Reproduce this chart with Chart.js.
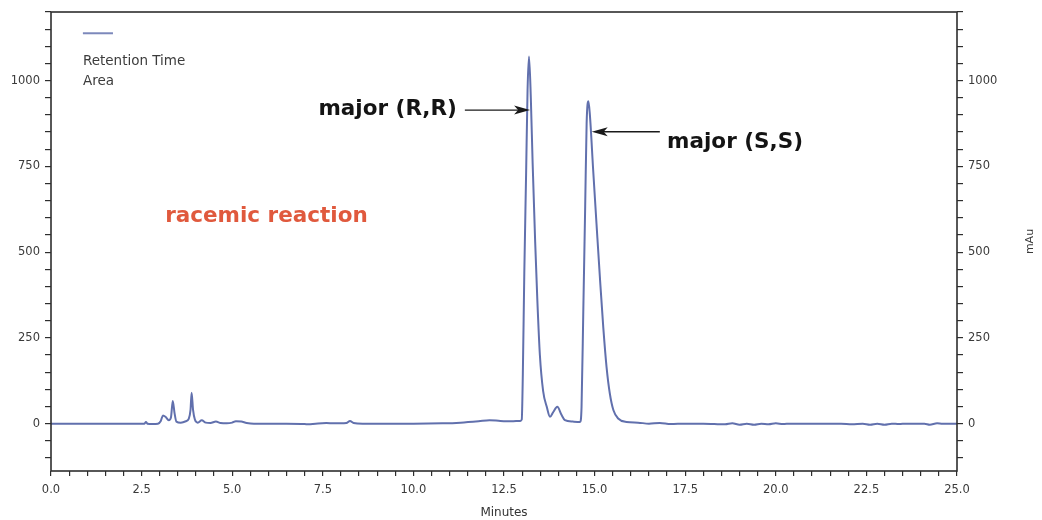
<!DOCTYPE html>
<html>
<head>
<meta charset="utf-8">
<title>Chromatogram - racemic reaction</title>
<script src="https://cdn.jsdelivr.net/npm/chart.js@4.4.1/dist/chart.umd.min.js"></script>
<style>
  html, body { margin: 0; padding: 0; background: #ffffff; }
  #wrap { width: 1042px; height: 520px; position: relative; }
</style>
</head>
<body>
<div id="wrap"><canvas id="chrom" width="1042" height="520"></canvas></div>
<script>
// Detector trace: retention time (min) and absorbance (mAu)
const retentionMinutes = [
  0.00, 2.50, 2.58, 2.62, 2.66, 2.80, 2.95, 3.03, 3.09, 3.16, 3.25, 3.31, 3.36, 3.41, 3.46,
  3.58, 3.72, 3.80, 3.85, 3.88, 3.92, 3.97, 4.05, 4.16, 4.27, 4.40, 4.55, 4.68, 4.85, 5.00,
  5.10, 5.25, 5.40, 5.60, 6.50, 7.00, 7.10, 7.30, 7.60, 7.80, 8.15, 8.25, 8.35, 8.60, 10.00,
  10.80, 11.30, 11.80, 12.10, 12.40, 12.70, 12.95, 12.99, 13.02, 13.06, 13.11, 13.15, 13.19, 13.24, 13.29,
  13.36, 13.42, 13.49, 13.58, 13.68, 13.77, 13.86, 13.97, 14.09, 14.18, 14.40, 14.60, 14.64, 14.69, 14.74,
  14.78, 14.83, 14.87, 14.96, 15.06, 15.15, 15.24, 15.33, 15.42, 15.52, 15.65, 15.88, 16.20, 16.50, 16.80,
  17.10, 17.50, 18.00, 18.60, 18.80, 19.00, 19.20, 19.40, 19.60, 19.80, 20.00, 20.20, 20.40, 21.80, 22.10,
  22.40, 22.60, 22.80, 23.00, 23.20, 23.40, 23.60, 24.10, 24.25, 24.45, 24.60, 25.00
];
const signalMAu = [
  0, 0, 0, 5, 0, -1, 0, 8, 24, 20, 10, 18, 66, 30, 6,
  3, 7, 14, 40, 90, 40, 12, 3, 10, 3, 2, 6, 2, 1, 3,
  7, 6, 2, 0, 0, -1, -2, 0, 2, 1, 2, 8, 2, 0, 0,
  1, 3, 7, 10, 8, 7, 8, 12, 146, 438, 729, 972, 1070, 950, 760,
  530, 360, 200, 95, 49, 20, 34, 49, 25, 10, 6, 5, 49, 340, 632,
  875, 940, 900, 740, 570, 420, 280, 165, 88, 39, 15, 5, 3, 0, 2,
  -1, 0, 0, -2, 1, -3, 0, -3, 0, -2, 1, -1, 0, 0, -2,
  0, -3, 0, -3, 0, -1, 0, 0, -3, 1, 0, 0
];

// Axis ranges and tick spacing
const timeRange = [0, 25];
const timeMinorStep = 0.5;
const timeLabelStep = 2.5;
const signalRange = [-138, 1200];
const signalMinorStep = 50;
const signalLabelStep = 250;

// Text placed on the plot (data coordinates)
const legendEntries = ['Retention Time', 'Area'];
const peakNotes = [
  { text: 'major (R,R)', x: 11.20, y: 917, align: 'right', arrowFrom: [11.42, 914], arrowTo: [13.22, 914] },
  { text: 'major (S,S)', x: 17.00, y: 819, align: 'left',  arrowFrom: [16.80, 851], arrowTo: [14.92, 851] }
];
const sampleNote = { text: 'racemic reaction', x: 3.15, y: 605 };

const traceColor = '#6170ad';
const axisColor = '#2e2e2e';
const tickFont = { family: 'DejaVu Sans', size: 11.5 };

const points = retentionMinutes.map((t, i) => ({ x: t, y: signalMAu[i] }));

const isMultiple = (v, step) => Math.abs(v / step - Math.round(v / step)) < 1e-6;

const decorations = {
  id: 'decorations',
  afterDatasetsDraw(chart) {
    const { ctx, chartArea: a, scales: { x, y } } = chart;
    const px = v => x.getPixelForValue(v);
    const py = v => y.getPixelForValue(v);
    ctx.save();

    // plot frame
    ctx.strokeStyle = axisColor;
    ctx.lineWidth = 1.6;
    ctx.strokeRect(a.left, a.top, a.right - a.left, a.bottom - a.top);

    // legend swatch and entries
    ctx.strokeStyle = '#7c88bb';
    ctx.lineWidth = 2;
    ctx.beginPath();
    ctx.moveTo(px(0.88), py(1138));
    ctx.lineTo(px(1.71), py(1138));
    ctx.stroke();
    ctx.fillStyle = '#3c3c3c';
    ctx.font = '13.5px "DejaVu Sans"';
    ctx.textAlign = 'left';
    ctx.textBaseline = 'middle';
    ctx.fillText(legendEntries[0], px(0.88), py(1057));
    ctx.fillText(legendEntries[1], px(0.88), py(998));

    // peak callouts with arrows
    ctx.font = 'bold 21.5px "DejaVu Sans"';
    peakNotes.forEach(n => {
      ctx.fillStyle = '#141414';
      ctx.textAlign = n.align;
      ctx.fillText(n.text, px(n.x), py(n.y));
      const x0 = px(n.arrowFrom[0]), y0 = py(n.arrowFrom[1]);
      const x1 = px(n.arrowTo[0]), y1 = py(n.arrowTo[1]);
      const dir = Math.sign(x1 - x0);
      ctx.strokeStyle = '#1a1a1a';
      ctx.lineWidth = 1.4;
      ctx.beginPath();
      ctx.moveTo(x0, y0);
      ctx.lineTo(x1 - dir * 10, y1);
      ctx.stroke();
      ctx.beginPath();
      ctx.moveTo(x1, y1);
      ctx.lineTo(x1 - dir * 16, y1 - 4.5);
      ctx.lineTo(x1 - dir * 12, y1);
      ctx.lineTo(x1 - dir * 16, y1 + 4.5);
      ctx.closePath();
      ctx.fillStyle = '#1a1a1a';
      ctx.fill();
    });

    // sample description
    ctx.fillStyle = '#e0593d';
    ctx.textAlign = 'left';
    ctx.fillText(sampleNote.text, px(sampleNote.x), py(sampleNote.y));

    // right axis unit
    ctx.translate(a.right + 73, (a.top + a.bottom) / 2);
    ctx.rotate(-Math.PI / 2);
    ctx.fillStyle = '#3a3a3a';
    ctx.font = '11px "DejaVu Sans"';
    ctx.textAlign = 'center';
    ctx.fillText('mAu', 0, 0);
    ctx.restore();
  }
};

const signalTicks = {
  stepSize: signalMinorStep,
  includeBounds: false,
  autoSkip: false,
  color: '#3a3a3a',
  font: tickFont,
  padding: 5,
  callback: v => (isMultiple(v, signalLabelStep) ? String(v) : '')
};

new Chart(document.getElementById('chrom'), {
  type: 'line',
  data: {
    datasets: [{
      data: points,
      borderColor: traceColor,
      borderWidth: 2,
      pointRadius: 0,
      fill: false,
      cubicInterpolationMode: 'monotone'
    }]
  },
  options: {
    responsive: false,
    animation: false,
    devicePixelRatio: 1,
    layout: { padding: { top: 12, left: 0, right: 0, bottom: 0 } },
    plugins: { legend: { display: false }, tooltip: { enabled: false } },
    scales: {
      x: {
        type: 'linear',
        min: timeRange[0],
        max: timeRange[1],
        border: { display: false },
        grid: { drawOnChartArea: false, drawTicks: true, tickLength: 5, color: axisColor, lineWidth: 1.2 },
        ticks: {
          stepSize: timeMinorStep,
          autoSkip: false,
          maxRotation: 0,
          color: '#3a3a3a',
          font: tickFont,
          padding: 7,
          callback: v => (isMultiple(v, timeLabelStep) ? v.toFixed(1) : '')
        },
        title: { display: true, text: 'Minutes', color: '#333', font: { family: 'DejaVu Sans', size: 12 }, padding: { top: 0, bottom: 0 } },
        afterFit: s => { s.height = 49; }
      },
      y: {
        type: 'linear',
        position: 'left',
        min: signalRange[0],
        max: signalRange[1],
        border: { display: false },
        grid: { drawOnChartArea: false, drawTicks: true, tickLength: 6, color: axisColor, lineWidth: 1.2 },
        ticks: signalTicks,
        afterFit: s => { s.width = 51; }
      },
      y2: {
        type: 'linear',
        position: 'right',
        min: signalRange[0],
        max: signalRange[1],
        border: { display: false },
        grid: { drawOnChartArea: false, drawTicks: true, tickLength: 6, color: axisColor, lineWidth: 1.2 },
        ticks: signalTicks,
        afterFit: s => { s.width = 85; }
      }
    }
  },
  plugins: [decorations]
});
</script>
</body>
</html>
